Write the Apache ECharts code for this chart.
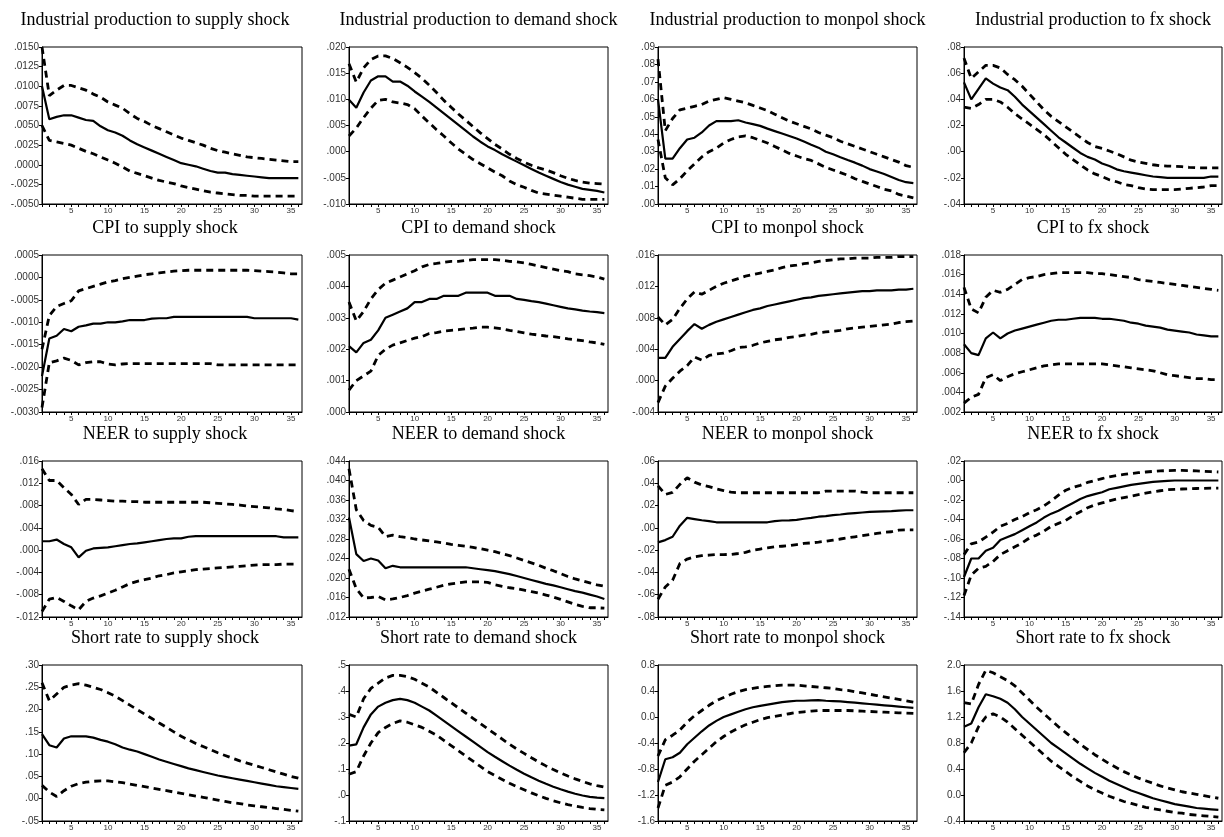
<!DOCTYPE html>
<html><head><meta charset="utf-8">
<script src="https://cdn.jsdelivr.net/npm/echarts@6/dist/echarts.min.js"></script>
<style>html,body{margin:0;padding:0;background:#fff}#c{width:1224px;height:837px}</style>
</head><body><div id="c"></div>
<script>
const horizons = [1,2,3,4,5,6,7,8,9,10,11,12,13,14,15,16,17,18,19,20,21,22,23,24,25,26,27,28,29,30,31,32,33,34,35,36];
const xTickLabels = [5,10,15,20,25,30,35];
const titles = [
  'Industrial production to supply shock','Industrial production to demand shock','Industrial production to monpol shock','Industrial production to fx shock',
  'CPI to supply shock','CPI to demand shock','CPI to monpol shock','CPI to fx shock',
  'NEER to supply shock','NEER to demand shock','NEER to monpol shock','NEER to fx shock',
  'Short rate to supply shock','Short rate to demand shock','Short rate to monpol shock','Short rate to fx shock'
];
// y-axis ranges and tick steps per panel
const yMins  = [-0.005,-0.010,0,-0.04, -0.0030,0,-0.004,0.002, -0.012,0.012,-0.08,-0.14, -0.05,-0.1,-1.6,-0.4];
const yMaxs  = [0.015,0.020,0.09,0.08, 0.0005,0.005,0.016,0.018, 0.016,0.044,0.06,0.02, 0.30,0.5,0.8,2.0];
const ySteps = [0.0025,0.005,0.01,0.02, 0.0005,0.001,0.004,0.002, 0.004,0.004,0.02,0.02, 0.05,0.1,0.4,0.4];
const yDecimals = [4,3,2,2, 4,3,3,3, 3,3,2,2, 2,1,1,1];
const yLeadingZero = [false,false,false,false, false,false,false,false, false,false,false,false, false,false,true,true];

// Industrial production
const ipSupplyResp = [.0100,.0058,.0061,.0063,.0063,.0060, .0057,.0056,.0049,.0044,.0041,.0037, .0031,.0026,.0022,.0018,.0014,.0010, .0006,.0002,.0000,-.0002,-.0005,-.0008, -.0010,-.0010,-.0012,-.0013,-.0014,-.0015, -.0016,-.0017,-.0017,-.0017,-.0017,-.0017];
const ipSupplyUp   = [.0150,.0088,.0095,.0101,.0101,.0098, .0095,.0090,.0086,.0080,.0076,.0072, .0065,.0059,.0055,.0050,.0046,.0042, .0038,.0034,.0031,.0028,.0025,.0021, .0018,.0016,.0014,.0012,.0010,.0009, .0008,.0007,.0006,.0005,.0004,.0004];
const ipSupplyLo   = [.0050,.0031,.0029,.0027,.0025,.0021, .0017,.0014,.0010,.0006,.0002,-.0003, -.0008,-.0011,-.0014,-.0017,-.0020,-.0022, -.0024,-.0027,-.0029,-.0031,-.0033,-.0035, -.0036,-.0037,-.0038,-.0039,-.0039,-.0040, -.0040,-.0040,-.0040,-.0040,-.0040,-.0040];
const ipDemandResp = [.0099,.0084,.0113,.0136,.0144,.0144, .0134,.0134,.0126,.0115,.0105,.0095, .0084,.0073,.0062,.0051,.0040,.0029, .0019,.0010,.0003,-.0005,-.0012,-.0019, -.0026,-.0033,-.0040,-.0046,-.0052,-.0058, -.0063,-.0067,-.0071,-.0073,-.0075,-.0078];
const ipDemandUp   = [.0168,.0133,.0160,.0176,.0183,.0183, .0178,.0170,.0161,.0151,.0140,.0127, .0113,.0098,.0085,.0072,.0060,.0048, .0036,.0025,.0014,.0005,-.0005,-.0013, -.0020,-.0026,-.0031,-.0035,-.0040,-.0046, -.0051,-.0055,-.0058,-.0060,-.0061,-.0062];
const ipDemandLo   = [.0030,.0045,.0065,.0083,.0098,.0100, .0095,.0093,.0090,.0082,.0068,.0055, .0042,.0030,.0017,.0005,-.0005,-.0015, -.0023,-.0031,-.0039,-.0046,-.0056,-.0063, -.0068,-.0074,-.0079,-.0081,-.0083,-.0085, -.0087,-.0089,-.0091,-.0091,-.0091,-.0091];
const ipMonpolResp = [.060,.026,.026,.032,.037,.038, .041,.045,.0475,.0475,.0475,.048, .0467,.0458,.0448,.0432,.0418,.0404, .0390,.0375,.0358,.0340,.0323,.0300, .0285,.0268,.0252,.0237,.0220,.0200, .0186,.0172,.0155,.0138,.0125,.0120];
const ipMonpolUp   = [.083,.042,.049,.054,.055,.056, .057,.059,.060,.061,.060,.059, .058,.0565,.055,.0535,.0515,.0495, .0475,.046,.0445,.043,.041,.0395, .038,.036,.0345,.033,.0315,.030, .0285,.027,.0255,.024,.022,.021];
const ipMonpolLo   = [.037,.015,.011,.0145,.019,.023, .027,.030,.032,.035,.037,.0385, .039,.038,.0365,.035,.033,.031, .029,.0275,.026,.025,.023,.021, .0195,.018,.0165,.0145,.013,.0115, .010,.0085,.0075,.0055,.0045,.0035];
const ipFxResp     = [.053,.040,.048,.056,.052,.049, .047,.042,.036,.031,.026,.021, .016,.011,.007,.003,-.001,-.004, -.006,-.009,-.011,-.0135,-.015,-.016, -.017,-.018,-.019,-.0195,-.020,-.020, -.020,-.020,-.020,-.020,-.019,-.019];
const ipFxUp       = [.0715,.056,.061,.066,.066,.064, .059,.055,.050,.044,.038,.032, .027,.023,.019,.015,.011,.007, .004,.0025,.0005,-.0015,-.004,-.0065, -.008,-.009,-.010,-.0108,-.011,-.0112, -.0115,-.012,-.0123,-.0124,-.0124,-.0124];
const ipFxLo       = [.034,.033,.036,.040,.040,.038, .034,.029,.025,.021,.017,.013, .008,.003,-.002,-.006,-.010,-.014, -.017,-.019,-.0215,-.023,-.025,-.026, -.0275,-.0285,-.029,-.029,-.029,-.029, -.0285,-.028,-.0275,-.027,-.026,-.026];
// CPI
const cpiSupplyResp = [-.0022,-.00136,-.0013,-.00115,-.0012,-.0011, -.00107,-.00103,-.00103,-.0010,-.0010,-.00098, -.00095,-.00095,-.00095,-.00092,-.00091,-.00091, -.00088,-.00088,-.00088,-.00088,-.00088,-.00088, -.00088,-.00088,-.00088,-.00088,-.00088,-.00091, -.00091,-.00091,-.00091,-.00091,-.00091,-.00094];
const cpiSupplyUp   = [-.0016,-.00085,-.00065,-.00058,-.00052,-.0003, -.00025,-.0002,-.00015,-.0001,-.00007,-.00003, .0000,.00003,.00006,.00008,.0001,.00012, .00014,.00015,.00016,.00016,.00016,.00016, .00016,.00016,.00016,.00016,.00016,.00015, .00014,.00013,.00012,.0001,.00008,.00008];
const cpiSupplyLo   = [-.0029,-.0019,-.00186,-.0018,-.00185,-.00195, -.0019,-.00188,-.00188,-.00193,-.00195,-.00193, -.00192,-.00192,-.00192,-.00192,-.00192,-.00192, -.00192,-.00192,-.00192,-.00192,-.00192,-.00192, -.00195,-.00195,-.00195,-.00195,-.00195,-.00195, -.00195,-.00195,-.00195,-.00195,-.00195,-.00195];
const cpiDemandResp = [.0021,.0019,.0022,.0023,.0026,.0030, .0031,.0032,.0033,.0035,.0035,.0036, .0036,.0037,.0037,.0037,.0038,.0038, .0038,.0038,.0037,.0037,.0037,.0036, .00357,.00353,.0035,.00345,.0034,.00335, .0033,.00327,.00323,.0032,.00318,.00315];
const cpiDemandUp   = [.0035,.0029,.0032,.0036,.0039,.0041, .0042,.0043,.0044,.0045,.00462,.0047, .00473,.00477,.0048,.0048,.00483,.00485, .00485,.00485,.00485,.00483,.0048,.00478, .00475,.0047,.00465,.0046,.00455,.0045, .00447,.0044,.00437,.00434,.0043,.00423];
const cpiDemandLo   = [.0007,.0010,.00115,.0013,.0018,.0020, .00213,.0022,.00228,.00235,.0024,.0025, .00253,.00258,.0026,.00262,.00265,.00267, .0027,.0027,.00268,.00265,.0026,.00256, .00252,.00248,.00245,.00242,.0024,.00237, .00233,.0023,.00227,.00223,.0022,.00215];
const cpiMonpolResp = [.0029,.0029,.0043,.0053,.0063,.0072, .0066,.0071,.0075,.0078,.0081,.0084, .0087,.0090,.0092,.0095,.0097,.0099, .0101,.0103,.0105,.0106,.0108,.0109, .0110,.0111,.0112,.0113,.0114,.0114, .0115,.0115,.0115,.0116,.0116,.0117];
const cpiMonpolUp   = [.0081,.0071,.0078,.0092,.0104,.0113, .0110,.0115,.0120,.0124,.0127,.0130, .0133,.0135,.0137,.0139,.0141,.0144, .0146,.0147,.0149,.0150,.0152,.0153, .0154,.0155,.0155,.0156,.0156,.0156, .0157,.0157,.0157,.0158,.0158,.0158];
const cpiMonpolLo   = [-.0028,-.0007,.0003,.0012,.0019,.0030, .0026,.0032,.0034,.0035,.0038,.0042, .0043,.0045,.0048,.0050,.0052,.0053, .0055,.0056,.0058,.0059,.0061,.0062, .0063,.0064,.0066,.0067,.0068,.0069, .0070,.0071,.0072,.0074,.0075,.0076];
const cpiFxResp     = [.0089,.0080,.0078,.0095,.0101,.0095, .0100,.0103,.0105,.0107,.0109,.0111, .0113,.0114,.0114,.0115,.0116,.0116, .0116,.0115,.0115,.0114,.0113,.0111, .0110,.0108,.0107,.0106,.0104,.0103, .0102,.0101,.0099,.0098,.0097,.0097];
const cpiFxUp       = [.0147,.0125,.0121,.0137,.0144,.0142, .0145,.0150,.0155,.0157,.0158,.0160, .0161,.0162,.0162,.0162,.0162,.0162, .0161,.0161,.0160,.0159,.0158,.0157, .0155,.0154,.0153,.0152,.0151,.0150, .0149,.0148,.0147,.0146,.0145,.0144];
const cpiFxLo       = [.0029,.0035,.0038,.0055,.0058,.0052, .0056,.0059,.0061,.0063,.0065,.0067, .0068,.0069,.0069,.0069,.0069,.0069, .0069,.0069,.0068,.0067,.0066,.0065, .0064,.0063,.0062,.0060,.0058,.0057, .0056,.0055,.0054,.0054,.0053,.0053];
// NEER
const neerSupplyResp = [.0016,.0016,.0019,.0011,.0005,-.0013, -.0001,.0003,.0004,.0005,.0007,.0009, .0011,.0012,.0014,.0016,.0018,.0020, .0021,.0021,.0024,.0025,.0025,.0025, .0025,.0025,.0025,.0025,.0025,.0025, .0025,.0025,.0025,.0023,.0023,.0023];
const neerSupplyUp   = [.0146,.0125,.0125,.0112,.0100,.0082, .0091,.0091,.0090,.0089,.0088,.0088, .0087,.0087,.0086,.0086,.0086,.0086, .0086,.0086,.0086,.0086,.0086,.0085, .0084,.0083,.0082,.0081,.0079,.0078, .0077,.0076,.0074,.0073,.0071,.0069];
const neerSupplyLo   = [-.0110,-.0088,-.0085,-.0092,-.0100,-.0107, -.0092,-.0086,-.0082,-.0077,-.0072,-.0066, -.0060,-.0056,-.0053,-.0050,-.0046,-.0044, -.0041,-.0039,-.0037,-.0035,-.0034,-.0033, -.0032,-.0031,-.0030,-.0029,-.0028,-.0027, -.0026,-.0026,-.0026,-.0025,-.0025,-.0025];
const neerDemandResp = [.0324,.0249,.0235,.0240,.0236,.0220, .0225,.0222,.0222,.0222,.0222,.0222, .0222,.0222,.0222,.0222,.0222,.0220, .0218,.0216,.0214,.0211,.0208,.0204, .0200,.0196,.0192,.0188,.0185,.0181, .0177,.0173,.0170,.0166,.0162,.0157];
const neerDemandUp   = [.0424,.0340,.0318,.0308,.0304,.0285, .0288,.0285,.0283,.0280,.0278,.0276, .0274,.0272,.0269,.0267,.0265,.0263, .0260,.0257,.0254,.0250,.0246,.0241, .0236,.0231,.0226,.0220,.0215,.0209, .0203,.0198,.0194,.0190,.0186,.0183];
const neerDemandLo   = [.0218,.0178,.0159,.0160,.0162,.0155, .0157,.0160,.0164,.0169,.0173,.0177, .0181,.0185,.0188,.0190,.0192,.0192, .0192,.0191,.0186,.0183,.0180,.0178, .0175,.0172,.0169,.0165,.0161,.0156, .0151,.0146,.0142,.0139,.0139,.0138];
const neerMonpolResp = [-.013,-.011,-.008,.002,.009,.0079, .0068,.0060,.0050,.0050,.0050,.0050, .0050,.0050,.0050,.0050,.0060,.0066, .0067,.0072,.0082,.0090,.0100,.0105, .0115,.0120,.0127,.0133,.0138,.0143, .0146,.0148,.0150,.0155,.0158,.0158];
const neerMonpolUp   = [.0377,.0300,.0318,.0390,.0450,.0410, .0385,.0370,.0350,.0335,.0320,.0315, .0315,.0315,.0315,.0315,.0315,.0315, .0315,.0315,.0315,.0315,.0315,.0330, .0330,.0330,.0330,.0330,.0320,.0315, .0315,.0315,.0315,.0315,.0315,.0315];
const neerMonpolLo   = [-.064,-.053,-.047,-.032,-.028,-.026, -.025,-.0245,-.024,-.024,-.0238,-.023, -.022,-.020,-.019,-.018,-.017,-.0165, -.016,-.015,-.014,-.0135,-.0128,-.012, -.011,-.010,-.009,-.008,-.007,-.006, -.005,-.004,-.0035,-.002,-.0018,-.0018];
const neerFxResp     = [-.099,-.080,-.080,-.072,-.069,-.061, -.058,-.055,-.051,-.047,-.043,-.038, -.034,-.031,-.027,-.023,-.019,-.016, -.014,-.012,-.009,-.0075,-.006,-.0045, -.0035,-.0025,-.0015,-.0008,-.0003,.000, .000,.000,.000,.000,.000,.000];
const neerFxUp       = [-.076,-.065,-.063,-.058,-.053,-.047, -.044,-.040,-.037,-.033,-.030,-.026, -.021,-.015,-.010,-.007,-.005,-.002, .000,.002,.0038,.0052,.0062,.0072, .0080,.0087,.0093,.0098,.0102,.0103, .0103,.0102,.0098,.0094,.0090,.0087];
const neerFxLo       = [-.118,-.097,-.090,-.088,-.083,-.076, -.072,-.068,-.064,-.059,-.056,-.052, -.047,-.044,-.041,-.036,-.032,-.028, -.025,-.023,-.021,-.019,-.0175,-.016, -.0145,-.013,-.0115,-.0105,-.0095,-.009, -.0087,-.0085,-.0082,-.008,-.0079,-.0079];
// Short rate
const srSupplyResp = [.145,.120,.115,.135,.140,.140, .140,.137,.132,.128,.122,.115, .110,.106,.100,.094,.088,.083, .078,.073,.068,.064,.060,.056, .052,.049,.046,.043,.040,.037, .034,.031,.028,.026,.024,.022];
const srSupplyUp   = [.260,.220,.235,.250,.255,.258, .255,.250,.245,.238,.230,.220, .210,.200,.190,.180,.170,.160, .150,.140,.132,.124,.117,.110, .103,.097,.091,.085,.080,.075, .070,.065,.060,.055,.050,.046];
const srSupplyLo   = [.030,.015,.005,.018,.028,.034, .037,.039,.040,.040,.038,.036, .033,.030,.027,.024,.021,.018, .015,.012,.009,.006,.003,.000, -.003,-.006,-.009,-.011,-.014,-.016, -.018,-.020,-.022,-.024,-.026,-.028];
const srDemandResp = [.19,.195,.26,.31,.34,.355, .365,.37,.365,.355,.34,.325, .305,.285,.265,.245,.225,.205, .185,.165,.147,.13,.113,.097, .082,.068,.055,.043,.032,.022, .013,.005,-.002,-.007,-.010,-.012];
const srDemandUp   = [.31,.30,.37,.41,.43,.45, .46,.46,.455,.445,.43,.415, .395,.375,.355,.335,.315,.295, .275,.255,.235,.215,.195,.177, .16,.143,.127,.112,.098,.085, .073,.062,.052,.043,.036,.030];
const srDemandLo   = [.08,.09,.15,.20,.24,.26, .275,.285,.28,.27,.26,.245, .23,.21,.19,.17,.15,.13, .11,.09,.075,.06,.045,.032, .02,.008,-.003,-.013,-.022,-.03, -.037,-.043,-.048,-.052,-.055,-.057];
const srMonpolResp = [-1.0,-.65,-.62,-.55,-.42,-.32, -.22,-.13,-.06,.00,.04,.08, .12,.15,.17,.19,.21,.23, .24,.25,.25,.255,.26,.25, .245,.24,.23,.22,.21,.20, .19,.18,.17,.16,.15,.14];
const srMonpolUp   = [-.60,-.35,-.28,-.20,-.08,.02, .10,.18,.25,.30,.35,.39, .42,.44,.46,.47,.48,.49, .49,.49,.48,.47,.46,.45, .44,.42,.41,.39,.37,.35, .33,.31,.29,.27,.25,.23];
const srMonpolLo   = [-1.4,-1.05,-1.0,-.92,-.80,-.68, -.58,-.48,-.38,-.30,-.23,-.17, -.12,-.08,-.04,-.01,.01,.03, .05,.07,.08,.09,.10,.10, .10,.10,.10,.095,.09,.085, .08,.075,.07,.065,.06,.055];
const srFxResp     = [1.05,1.10,1.35,1.55,1.52,1.48, 1.42,1.32,1.20,1.10,1.00,.90, .80,.72,.64,.56,.48,.41, .34,.28,.22,.17,.12,.07, .03,-.01,-.05,-.08,-.11,-.14, -.16,-.18,-.20,-.21,-.22,-.23];
const srFxUp       = [1.42,1.40,1.70,1.92,1.88,1.82, 1.76,1.68,1.57,1.46,1.35,1.25, 1.15,1.05,.96,.87,.78,.70, .62,.55,.48,.42,.36,.31, .26,.22,.18,.14,.11,.08, .05,.03,.01,-.01,-.03,-.05];
const srFxLo       = [.65,.80,1.05,1.20,1.25,1.20, 1.12,1.02,.92,.82,.72,.62, .52,.44,.36,.28,.21,.14, .08,.03,-.02,-.06,-.10,-.13, -.16,-.19,-.21,-.23,-.25,-.27, -.28,-.30,-.31,-.32,-.33,-.34];

const respSeries = [ipSupplyResp,ipDemandResp,ipMonpolResp,ipFxResp, cpiSupplyResp,cpiDemandResp,cpiMonpolResp,cpiFxResp, neerSupplyResp,neerDemandResp,neerMonpolResp,neerFxResp, srSupplyResp,srDemandResp,srMonpolResp,srFxResp];
const upSeries = [ipSupplyUp,ipDemandUp,ipMonpolUp,ipFxUp, cpiSupplyUp,cpiDemandUp,cpiMonpolUp,cpiFxUp, neerSupplyUp,neerDemandUp,neerMonpolUp,neerFxUp, srSupplyUp,srDemandUp,srMonpolUp,srFxUp];
const loSeries = [ipSupplyLo,ipDemandLo,ipMonpolLo,ipFxLo, cpiSupplyLo,cpiDemandLo,cpiMonpolLo,cpiFxLo, neerSupplyLo,neerDemandLo,neerMonpolLo,neerFxLo, srSupplyLo,srDemandLo,srMonpolLo,srFxLo];

// layout
const colLeft = [42,349,658,964];
const colWidth = [260,259,259,258];
const rowTop = [47,255,461,665];
const rowHeight = [157,157,156,156];

function fmt(v, dec, lead){
  let s = Math.abs(v) < 1e-12 ? (0).toFixed(dec) : v.toFixed(dec);
  if (!lead) s = s.replace(/^(-?)0\./, '$1.');
  return s;
}

const chart = echarts.init(document.getElementById('c'));
const grid=[], xAxis=[], yAxis=[], series=[], title=[];
for (let i=0;i<16;i++){
  const r=Math.floor(i/4), c=i%4;
  const cx = colLeft[c] + colWidth[c]/2 + (c===0 ? (r===0 ? -17 : -7) : 0);
  title.push({text:titles[i], left:cx, top:rowTop[r]-36, textAlign:'center', padding:0,
    textStyle:{fontFamily:'Liberation Serif, Times New Roman, serif', fontWeight:'normal', fontSize:18, color:'#000'}});
  grid.push({left:colLeft[c], top:rowTop[r], width:colWidth[c], height:rowHeight[r], show:true, borderColor:'#000', borderWidth:1, backgroundColor:'transparent'});
  xAxis.push({type:'value', gridIndex:i, min:1, max:36.5,
    axisLine:{show:true, onZero:false, lineStyle:{color:'#000', width:1}},
    axisTick:{show:true, inside:false, length:3, customValues:horizons, lineStyle:{color:'#000'}},
    axisLabel:{show:true, customValues:xTickLabels, fontSize:8, color:'#333', margin:3, fontFamily:'Liberation Sans, Arial, sans-serif'},
    splitLine:{show:false}});
  const dec=yDecimals[i], lead=yLeadingZero[i];
  yAxis.push({type:'value', gridIndex:i, min:yMins[i], max:yMaxs[i], interval:ySteps[i],
    axisLine:{show:true, onZero:false, lineStyle:{color:'#000', width:1}},
    axisTick:{show:true, inside:false, length:3, lineStyle:{color:'#000'}},
    axisLabel:{fontSize:10, color:'#333', margin:3, fontFamily:'Liberation Sans, Arial, sans-serif', formatter:v=>fmt(v,dec,lead)},
    splitLine:{show:false}});
  const mk = arr => horizons.map((h,k)=>[h, arr[k]]);
  const dashed = {color:'#000', width:2.8, type:[7,5]};
  series.push({type:'line', xAxisIndex:i, yAxisIndex:i, data:mk(upSeries[i]), symbol:'none', silent:true, lineStyle:dashed, z:2});
  series.push({type:'line', xAxisIndex:i, yAxisIndex:i, data:mk(loSeries[i]), symbol:'none', silent:true, lineStyle:dashed, z:2});
  series.push({type:'line', xAxisIndex:i, yAxisIndex:i, data:mk(respSeries[i]), symbol:'none', silent:true, lineStyle:{color:'#000', width:2.2, type:'solid'}, z:3});
}
chart.setOption({animation:false, backgroundColor:'#fff', title, grid, xAxis, yAxis, series});
</script>
</body></html>
